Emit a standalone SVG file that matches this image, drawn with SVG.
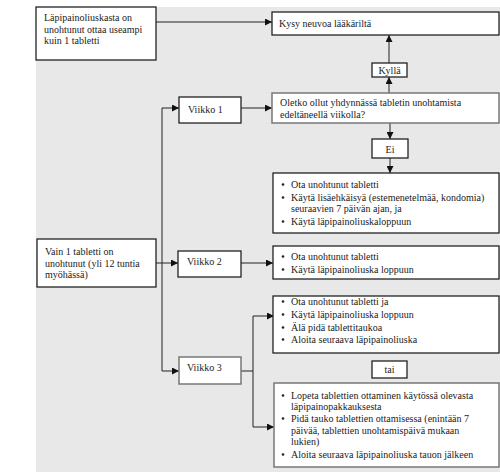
<svg xmlns="http://www.w3.org/2000/svg" width="500" height="472" viewBox="0 0 500 472">
<style>
.box{fill:#fff;stroke:#222;stroke-width:1.3}
.gbox{fill:#fff;stroke:#777;stroke-width:1.5}
text{font-family:"Liberation Serif","Times New Roman",serif;font-size:10px;fill:#222}
.c{text-anchor:middle}
.ln{fill:none;stroke:#222;stroke-width:1}
.b{fill:#222}
</style>
<defs>
<marker id="ah" viewBox="0 0 10 10" refX="10" refY="5" markerWidth="7" markerHeight="7" markerUnits="userSpaceOnUse" orient="auto">
<path d="M0,0 L10,5 L0,10 Z" fill="#111"/>
</marker>
</defs>
<rect x="0" y="0" width="500" height="472" fill="#fff"/>
<rect x="36" y="7" width="464" height="465" fill="#e8e8e8"/>

<g id="connectors">
<path class="ln" d="M156,22 H272" marker-end="url(#ah)"/>
<path class="ln" d="M389,63 V35" marker-end="url(#ah)"/>
<path class="ln" d="M389,93 V77" marker-end="url(#ah)"/>
<path class="ln" d="M390,123 V139" marker-end="url(#ah)"/>
<path class="ln" d="M390,158 V173" marker-end="url(#ah)"/>
<path class="ln" d="M162,371 V108 H179" marker-end="url(#ah)"/>
<path class="ln" d="M162,371 H179" marker-end="url(#ah)"/>
<path class="ln" d="M156,263 H178" marker-end="url(#ah)"/>
<path class="ln" d="M241,108 H272" marker-end="url(#ah)"/>
<path class="ln" d="M241,263 H273" marker-end="url(#ah)"/>
<path class="ln" d="M241,371 H253"/>
<path class="ln" d="M253,427 V316 H274" marker-end="url(#ah)"/>
<path class="ln" d="M253,427 H274" marker-end="url(#ah)"/>
</g>

<g id="n-top">
<rect class="box" x="36" y="7" width="120" height="53"/>
<text x="44" y="20.5">Läpipainoliuskasta on</text>
<text x="44" y="32.5">unohtunut ottaa useampi</text>
<text x="44" y="44">kuin 1 tabletti</text>
</g>

<g id="n-kysy">
<rect class="box" x="272" y="12" width="227" height="23"/>
<text x="279" y="26.5">Kysy neuvoa lääkäriltä</text>
</g>

<g id="n-kylla">
<rect class="box" x="372" y="63" width="35" height="14"/>
<text class="c" x="389.5" y="74">Kyllä</text>
</g>

<g id="n-oletko">
<rect class="gbox" x="272" y="93" width="227" height="30"/>
<text x="280" y="106">Oletko ollut yhdynnässä tabletin unohtamista</text>
<text x="280" y="117.5">edeltäneellä viikolla?</text>
</g>

<g id="n-ei">
<rect class="box" x="372" y="139" width="36" height="19"/>
<text class="c" x="390" y="153">Ei</text>
</g>

<g id="n-box1">
<rect class="box" x="273" y="173" width="226" height="60"/>
<circle class="b" cx="283" cy="184.5" r="1.3"/>
<text x="291" y="188">Ota unohtunut tabletti</text>
<circle class="b" cx="283" cy="197.5" r="1.3"/>
<text x="291" y="201">Käytä lisäehkäisyä (estemenetelmää, kondomia)</text>
<text x="291" y="212">seuraavien 7 päivän ajan, ja</text>
<circle class="b" cx="283" cy="221.5" r="1.3"/>
<text x="291" y="225">Käytä läpipainoliuskaloppuun</text>
</g>

<g id="n-viikko1">
<rect class="box" x="179" y="97" width="62" height="26"/>
<text x="188" y="113">Viikko 1</text>
</g>

<g id="n-vain">
<rect class="box" x="37" y="239" width="119" height="48"/>
<text x="45" y="255">Vain 1 tabletti on</text>
<text x="45" y="266.5">unohtunut (yli 12 tuntia</text>
<text x="45" y="278">myöhässä)</text>
</g>

<g id="n-viikko2">
<rect class="box" x="178" y="251" width="63" height="26"/>
<text x="187" y="264.5">Viikko 2</text>
</g>

<g id="n-box2">
<rect class="box" x="273" y="246" width="226" height="33"/>
<circle class="b" cx="283" cy="256.5" r="1.3"/>
<text x="291" y="260">Ota unohtunut tabletti</text>
<circle class="b" cx="283" cy="269.5" r="1.3"/>
<text x="291" y="273">Käytä läpipainoliuska loppuun</text>
</g>

<g id="n-box3">
<rect class="box" x="273" y="296" width="226" height="57"/>
<circle class="b" cx="283" cy="301.5" r="1.3"/>
<text x="291" y="305">Ota unohtunut tabletti ja</text>
<circle class="b" cx="283" cy="314.5" r="1.3"/>
<text x="291" y="318">Käytä läpipainoliuska loppuun</text>
<circle class="b" cx="283" cy="327.5" r="1.3"/>
<text x="291" y="331">Älä pidä tablettitaukoa</text>
<circle class="b" cx="283" cy="339.5" r="1.3"/>
<text x="291" y="343">Aloita seuraava läpipainoliuska</text>
</g>

<g id="n-viikko3">
<rect class="gbox" x="179" y="357" width="62" height="27"/>
<text x="187" y="371">Viikko 3</text>
</g>

<g id="n-tai">
<rect class="box" x="372" y="361" width="35" height="17"/>
<text class="c" x="389.5" y="373">tai</text>
</g>

<g id="n-box4">
<rect class="gbox" x="274" y="383" width="225" height="84"/>
<circle class="b" cx="283" cy="395.5" r="1.3"/>
<text x="291" y="399">Lopeta tablettien ottaminen käytössä olevasta</text>
<text x="291" y="409.5">läpipainopakkauksesta</text>
<circle class="b" cx="283" cy="418.5" r="1.3"/>
<text x="291" y="422">Pidä tauko tablettien ottamisessa (enintään 7</text>
<text x="291" y="433.5">päivää, tablettien unohtamispäivä mukaan</text>
<text x="291" y="445">lukien)</text>
<circle class="b" cx="283" cy="454.5" r="1.3"/>
<text x="291" y="458">Aloita seuraava läpipainoliuska tauon jälkeen</text>
</g>
</svg>
